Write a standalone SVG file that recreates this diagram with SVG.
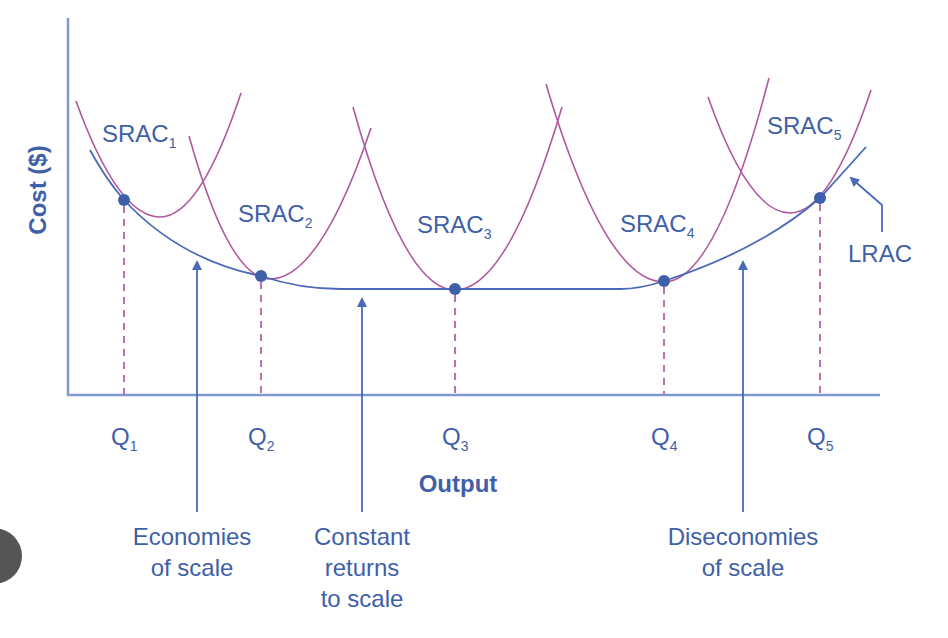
<svg xmlns="http://www.w3.org/2000/svg" width="948" height="638" viewBox="0 0 948 638">
<style>
.ax{stroke:#7f98d0;stroke-width:2.5;fill:none}
.sr{stroke:#b0579e;stroke-width:1.6;fill:none}
.lr{stroke:#4a6ab8;stroke-width:1.8;fill:none}
.dash{stroke:#c070b0;stroke-width:2;stroke-dasharray:7,6}
.arr{stroke:#4a6ab8;stroke-width:1.8;fill:none}
text{font-family:"Liberation Sans",Arial,sans-serif;fill:#3f5fa8;font-size:24px}
.b{font-weight:bold}
.s{font-size:14px}
.c{text-anchor:middle}
</style>
<defs>
<marker id="ah" markerWidth="10" markerHeight="10" refX="8" refY="5" orient="auto" markerUnits="userSpaceOnUse"><path d="M0,0 L10,5 L0,10 Z" fill="#4a6ab8"/></marker>
</defs>
<rect width="948" height="638" fill="#fff"/>
<circle cx="-6" cy="556" r="28" fill="#555"/>
<g id="axes">
<path class="ax" d="M68,18 V395 H880"/>
</g>
<g id="connectors">
<line class="dash" x1="124" y1="206" x2="124" y2="395"/>
<line class="dash" x1="261" y1="282" x2="261" y2="395"/>
<line class="dash" x1="455" y1="295" x2="455" y2="395"/>
<line class="dash" x1="664" y1="287" x2="664" y2="395"/>
<line class="dash" x1="820" y1="204" x2="820" y2="395"/>
<line class="arr" x1="197" y1="512" x2="197" y2="262" marker-end="url(#ah)"/>
<line class="arr" x1="362" y1="512" x2="362" y2="299" marker-end="url(#ah)"/>
<line class="arr" x1="743" y1="512" x2="743" y2="262" marker-end="url(#ah)"/>
<path class="arr" d="M882,232 V205 L851,178" marker-end="url(#ah)"/>
</g>
<g id="srac1"><path class="sr" d="M76,101 Q118,217 160,217 Q200,217 241,93"/><text x="102" y="142">SRAC<tspan class="s" dy="6">1</tspan></text></g>
<g id="srac2"><path class="sr" d="M189,136 Q229,279 270,279 Q320,279 371,128"/><text x="238" y="222">SRAC<tspan class="s" dy="6">2</tspan></text></g>
<g id="srac3"><path class="sr" d="M353,107 Q404,290 455,290 Q508,290 562,107"/><text x="417" y="233">SRAC<tspan class="s" dy="6">3</tspan></text></g>
<g id="srac4"><path class="sr" d="M546,84 Q605,282 664,282 Q716,282 769,78"/><text x="620" y="232">SRAC<tspan class="s" dy="6">4</tspan></text></g>
<g id="srac5"><path class="sr" d="M708,97 Q749,213 790,213 Q830,213 871,90"/><text x="767" y="134">SRAC<tspan class="s" dy="6">5</tspan></text></g>
<g id="lrac">
<path class="lr" d="M90,150 Q105,178 124,200 Q180,260 261,276 Q300,289 340,289 L620,289 Q640,289 664,281 Q760,250 820,198 L866,147"/>
<text x="848" y="262">LRAC</text>
</g>
<g id="points" fill="#3f5fa8">
<circle cx="124" cy="200" r="6"/><circle cx="261" cy="276" r="6"/><circle cx="455" cy="289" r="6"/><circle cx="664" cy="281" r="6"/><circle cx="820" cy="198" r="6"/>
</g>
<g id="qlabels">
<text x="111" y="445">Q<tspan class="s" dy="6">1</tspan></text>
<text x="248" y="445">Q<tspan class="s" dy="6">2</tspan></text>
<text x="442" y="445">Q<tspan class="s" dy="6">3</tspan></text>
<text x="651" y="445">Q<tspan class="s" dy="6">4</tspan></text>
<text x="807" y="445">Q<tspan class="s" dy="6">5</tspan></text>
</g>
<text class="b c" x="458" y="492">Output</text>
<text class="b c" transform="translate(46,190) rotate(-90)">Cost ($)</text>
<g id="econ"><text class="c" x="192" y="545">Economies</text><text class="c" x="192" y="576">of scale</text></g>
<g id="const"><text class="c" x="362" y="545">Constant</text><text class="c" x="362" y="576">returns</text><text class="c" x="362" y="607">to scale</text></g>
<g id="dis"><text class="c" x="743" y="545">Diseconomies</text><text class="c" x="743" y="576">of scale</text></g>
</svg>
